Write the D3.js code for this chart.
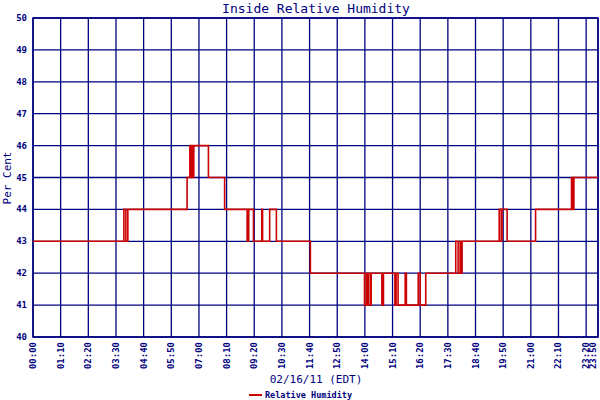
<!DOCTYPE html>
<html>
<head>
<meta charset="utf-8">
<title>Inside Relative Humidity</title>
<script src="https://cdn.jsdelivr.net/npm/d3@7"></script>
<style>
  body { margin: 0; background: #fff; }
  text { font-family: "DejaVu Sans Mono", monospace; fill: #000080; }
</style>
</head>
<body>
<svg id="chart" width="600" height="400"></svg>
<script>
// step change points: time of change and new reading (%)
var times = ["00:00","03:50","03:55","04:00","06:30","06:37","06:39","06:42","06:44","06:47",
  "07:24","08:05","09:02","09:06","09:18","09:39","09:41","09:59","10:16","11:42",
  "13:59","14:04","14:06","14:09","14:14","14:16","14:43","14:47","15:16","15:19",
  "15:24","15:42","15:45","16:15","16:20","16:34","17:50","17:56","18:01","18:03",
  "18:06","19:40","19:45","19:47","20:00","21:12","22:43","22:46","22:49","23:50"];
var values = [43,44,43,44,45,46,45,46,45,46,
  45,44,43,44,43,44,43,44,43,42,
  41,42,41,42,41,42,41,42,41,42,
  41,42,41,42,41,42,43,42,43,42,
  43,44,43,44,43,44,45,44,45,45];
var xTicks = ["00:00","01:10","02:20","03:30","04:40","05:50","07:00","08:10","09:20","10:30",
  "11:40","12:50","14:00","15:10","16:20","17:30","18:40","19:50","21:00","22:10","23:20","23:50"];
var yTicks = [40,41,42,43,44,45,46,47,48,49,50];

var navy = "#000080", red = "#cc0000";
function mins(s) { var p = s.split(":"); return +p[0] * 60 + +p[1]; }

var svg = d3.select("#chart");
var x = d3.scaleLinear().domain([0, mins("23:50")]).range([33, 598]);
var y = d3.scaleLinear().domain([40, 50]).range([337, 18]);

// grid
svg.append("g").selectAll("line").data(xTicks).join("line")
  .attr("x1", function(d){ return x(mins(d)); }).attr("x2", function(d){ return x(mins(d)); })
  .attr("y1", 18).attr("y2", 337).attr("stroke", navy).attr("stroke-width", 1.3);
svg.append("g").selectAll("line").data(yTicks).join("line")
  .attr("x1", 33).attr("x2", 598)
  .attr("y1", function(d){ return y(d); }).attr("y2", function(d){ return y(d); })
  .attr("stroke", navy).attr("stroke-width", 1.3);
svg.append("rect").attr("x", 33).attr("y", 18).attr("width", 565).attr("height", 319)
  .attr("fill", "none").attr("stroke", navy).attr("stroke-width", 1.5);

// data line
var pts = times.map(function(t, i){ return [mins(t), values[i]]; });
svg.append("path").datum(pts)
  .attr("d", d3.line().x(function(d){ return x(d[0]); }).y(function(d){ return y(d[1]); }).curve(d3.curveStepAfter))
  .attr("fill", "none").attr("stroke", red).attr("stroke-width", 1.6);

// tick labels (last one nudged in so it stays on the page)
svg.append("g").selectAll("text").data(xTicks).join("text")
  .attr("transform", function(d, i){
    var px = Math.min(x(mins(d)) + 3, 596);
    return "translate(" + px + ",342) rotate(-90)"; })
  .attr("text-anchor", "end").attr("font-size", 9).attr("font-weight", "bold")
  .text(function(d){ return d; });
svg.append("g").selectAll("text").data(yTicks).join("text")
  .attr("x", 27).attr("y", function(d){ return y(d) + 3; })
  .attr("text-anchor", "end").attr("font-size", 9).attr("font-weight", "bold")
  .text(function(d){ return d; });

// titles
svg.append("text").attr("x", 316).attr("y", 13).attr("text-anchor", "middle")
  .attr("font-size", 13).text("Inside Relative Humidity");
svg.append("text").attr("transform", "translate(11,178) rotate(-90)").attr("text-anchor", "middle")
  .attr("font-size", 11).text("Per Cent");
svg.append("text").attr("x", 316).attr("y", 383).attr("text-anchor", "middle")
  .attr("font-size", 11).text("02/16/11 (EDT)");

// legend
svg.append("line").attr("x1", 249).attr("x2", 262).attr("y1", 395).attr("y2", 395)
  .attr("stroke", red).attr("stroke-width", 2);
svg.append("text").attr("x", 265).attr("y", 398).attr("font-size", 8.5).attr("font-weight", "bold")
  .text("Relative Humidity");
</script>
</body>
</html>
